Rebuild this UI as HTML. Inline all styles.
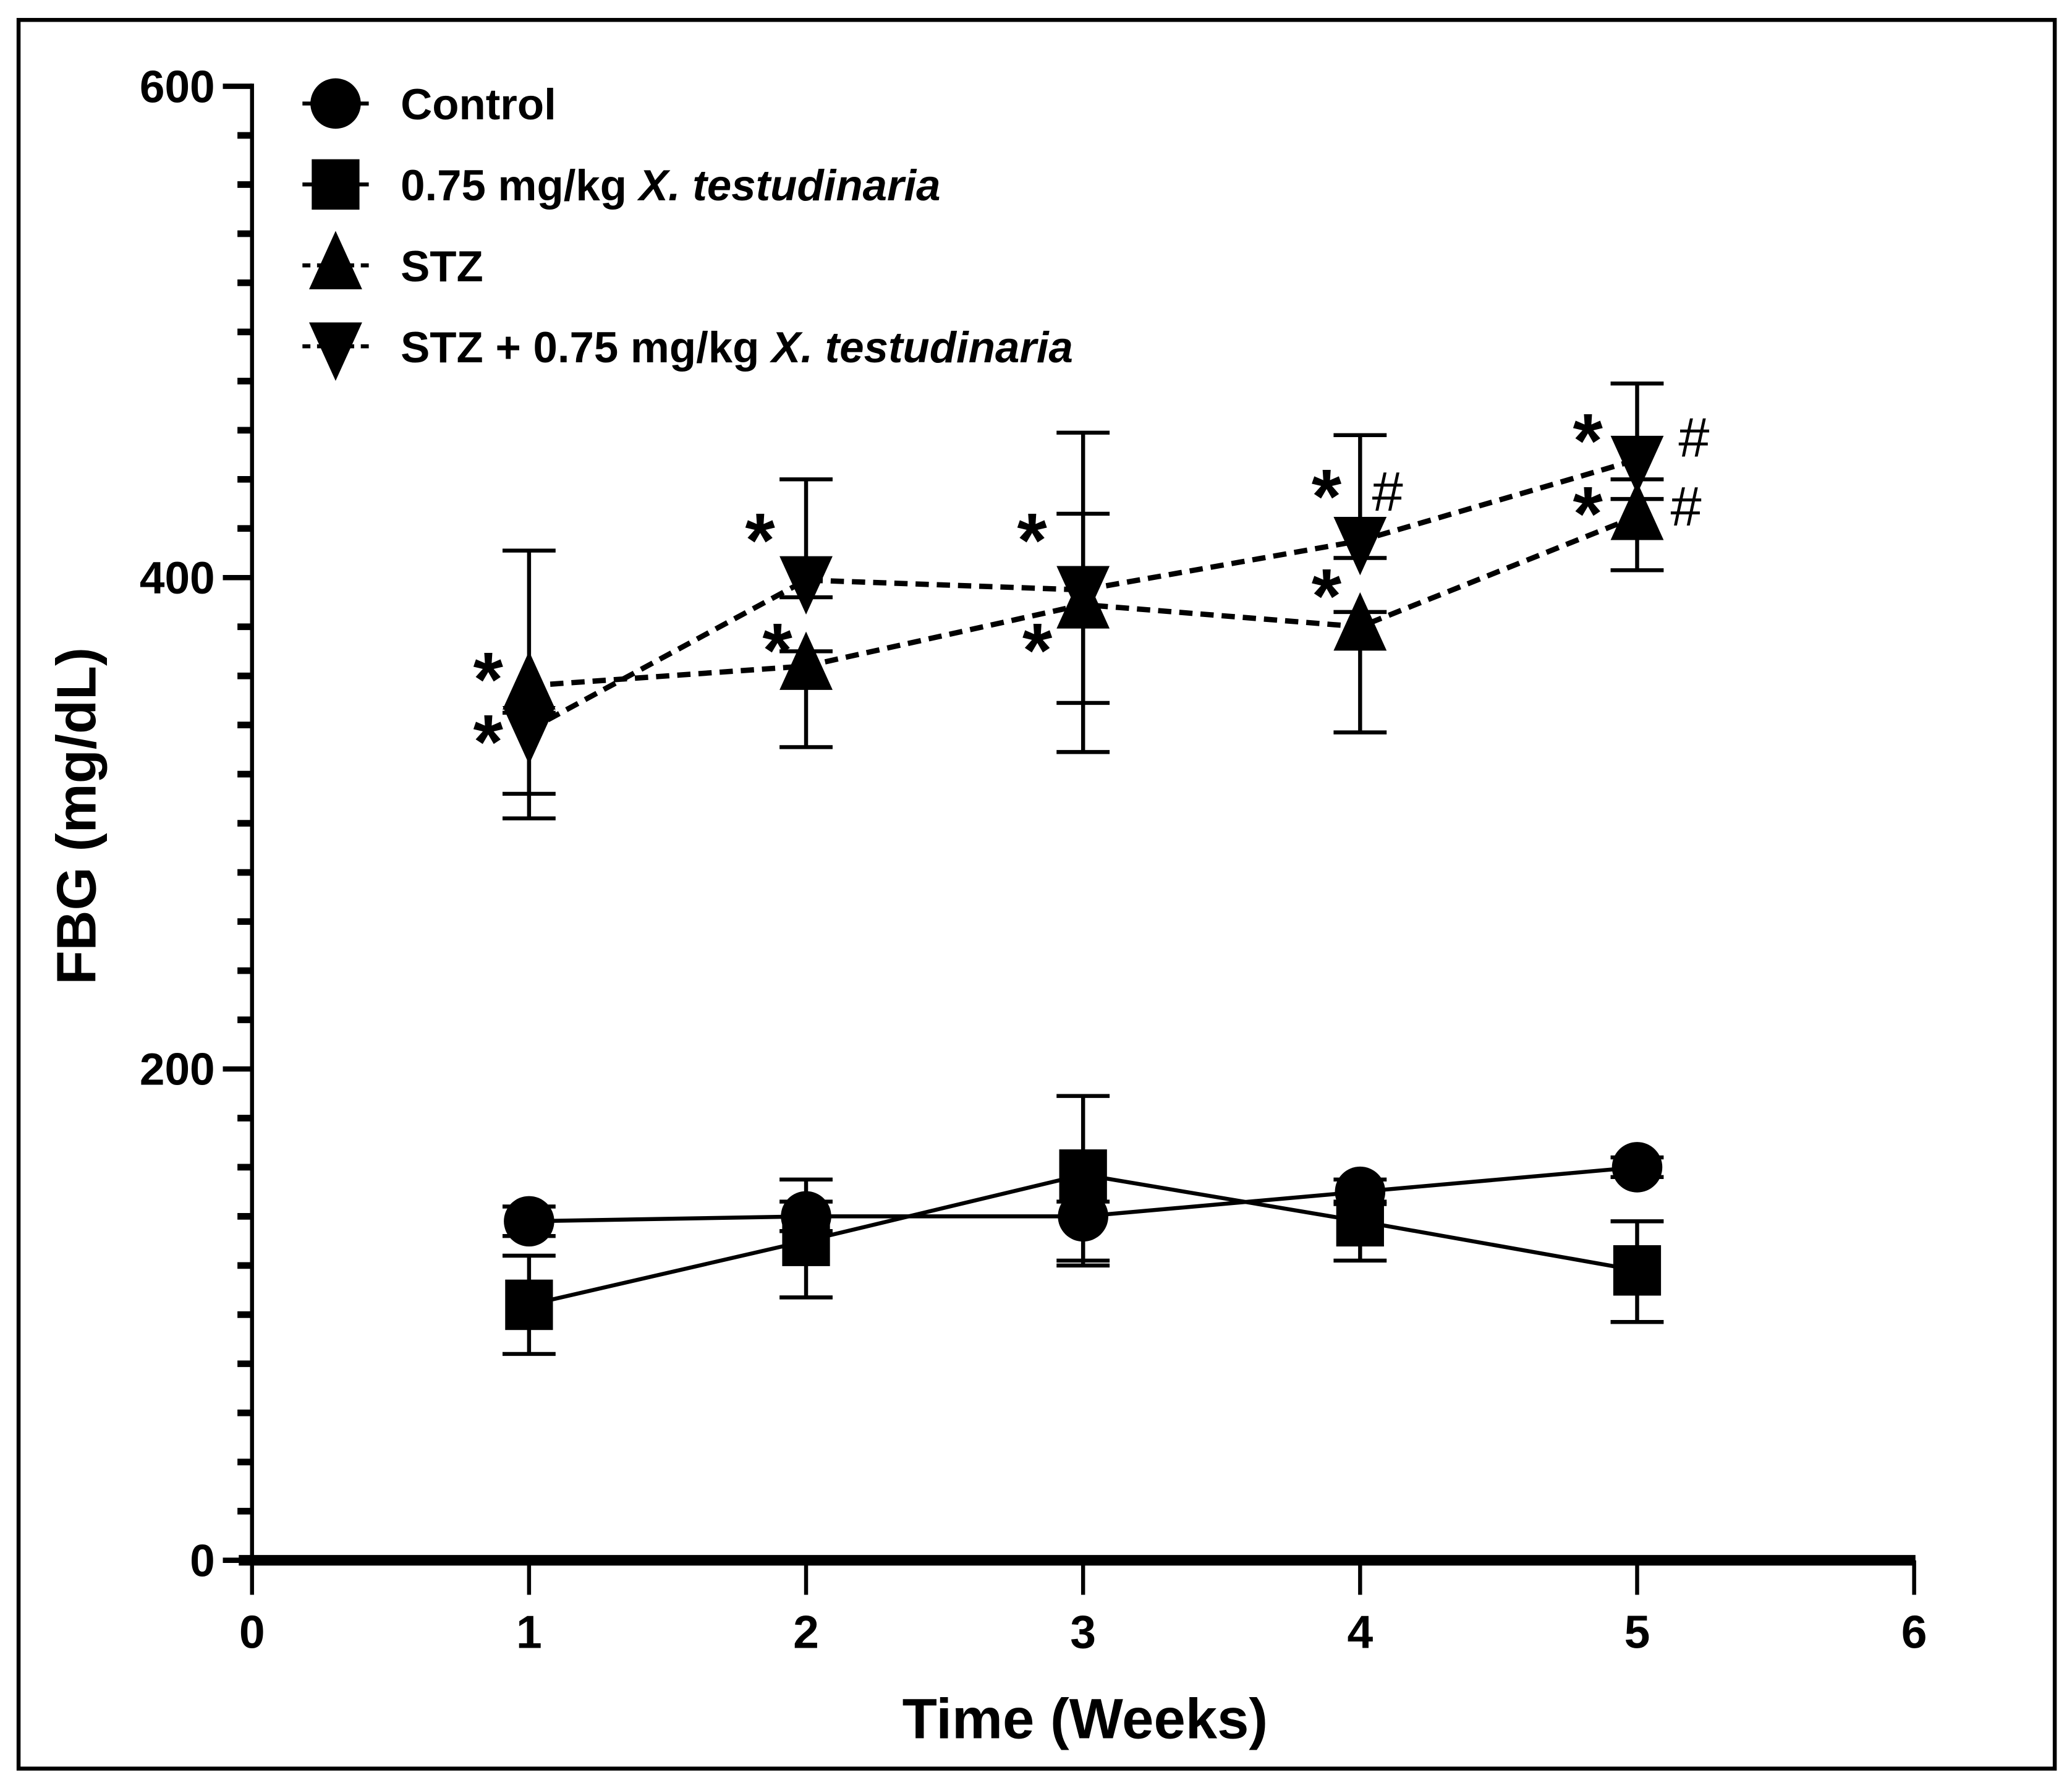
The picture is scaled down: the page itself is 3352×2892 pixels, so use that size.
<!DOCTYPE html>
<html><head><meta charset="utf-8"><style>
html,body{margin:0;padding:0;background:#fff;}
svg{display:block;}
text{font-family:"Liberation Sans",sans-serif;}
</style></head><body>
<svg id="chart" width="3352" height="2892" viewBox="0 0 1562 1347.6" xmlns="http://www.w3.org/2000/svg">
<rect x="14" y="15" width="1535" height="1318" fill="#fff" stroke="#000" stroke-width="3"/>
<g id="axes"></g>
<g id="series"></g>
<g id="legend"></g>
<text transform="translate(72,615) rotate(-90)" text-anchor="middle" font-size="42" font-weight="bold">FBG (mg/dL)</text>
<text x="818" y="1310" text-anchor="middle" font-size="43" font-weight="bold">Time (Weeks)</text>
</svg>
<script>
const weeks = [1, 2, 3, 4, 5];
const controlMean = [138, 140, 140, 150, 160];
const controlUp = [144, 146, 146, 155, 164];
const controlLow = [132, 134, 120, 145, 156];
const xtMean = [104, 130, 157, 138, 118];
const xtUp = [124, 155, 189, 146, 138];
const xtLow = [84, 107, 122, 122, 97];
const stzMean = [356, 364, 389, 380, 425];
const stzUp = [411, 370, 426, 386, 432];
const stzLow = [302, 331, 349, 337, 403];
const stzxMean = [338, 399, 395, 415, 448];
const stzxUp = [345, 440, 459, 458, 479];
const stzxLow = [312, 392, 329, 408, 440];
const xTicks = [0, 1, 2, 3, 4, 5, 6];
const yTicks = [0, 200, 400, 600];

const NS = "http://www.w3.org/2000/svg";
const X = v => 190 + v * (1443 - 190) / 6;
const Y = v => 1176 - v * (1176 - 65) / 600;
function el(tag, attrs, parent) {
  const e = document.createElementNS(NS, tag);
  for (const k in attrs) e.setAttribute(k, attrs[k]);
  parent.appendChild(e);
  return e;
}
const axes = document.getElementById('axes');
const yAxis = el('line', {x1: 190, y1: Y(600) - 2, x2: 190, y2: Y(0), stroke: '#000', 'stroke-width': 3}, axes);


const xAxis = el('line', {x1: 180, y1: Y(0), x2: X(6) + 1, y2: Y(0), stroke: '#000', 'stroke-width': 8}, axes);


for (let v = 0; v <= 600; v += 20) {
  const major = v % 200 === 0;
  const t = el('line', {x1: major ? 168 : 179, y1: Y(v), x2: 190, y2: Y(v), stroke: '#000', 'stroke-width': major ? 4 : 5}, axes);
  
  
}
yTicks.forEach(v => {
  const t = el('text', {x: 162, y: Y(v) + 12, 'text-anchor': 'end', 'font-size': 34, 'font-weight': 'bold'}, axes);
  t.textContent = v;
  
  
});
xTicks.forEach(v => {
  const t = el('line', {x1: X(v), y1: Y(0), x2: X(v), y2: Y(0) + 26, stroke: '#000', 'stroke-width': 3}, axes);
  
  
  const l = el('text', {x: X(v), y: 1242, 'text-anchor': 'middle', 'font-size': 35, 'font-weight': 'bold'}, axes);
  l.textContent = v;
  
  
});

function marker(type, cx, cy, parent) {
  let m;
  if (type === 'circle') m = el('circle', {cx: cx, cy: cy, r: 19}, parent);
  else if (type === 'square') m = el('rect', {x: cx - 18, y: cy - 19, width: 36, height: 38}, parent);
  else if (type === 'up') m = el('polygon', {points: `${cx},${cy-26} ${cx-20},${cy+18} ${cx+20},${cy+18}`}, parent);
  else m = el('polygon', {points: `${cx},${cy+26} ${cx-20},${cy-18} ${cx+20},${cy-18}`}, parent);
  m.setAttribute('fill', '#000');
  return m;
}
const seriesG = document.getElementById('series');
const series = [
  {name: 'control', mean: controlMean, up: controlUp, low: controlLow, type: 'circle', dash: null},
  {name: 'xt', mean: xtMean, up: xtUp, low: xtLow, type: 'square', dash: null},
  {name: 'stz', mean: stzMean, up: stzUp, low: stzLow, type: 'up', dash: '10 6'},
  {name: 'stzx', mean: stzxMean, up: stzxUp, low: stzxLow, type: 'down', dash: '10 6'}
];
series.forEach(s => {
  const g = el('g', {}, seriesG);
  
  
  weeks.forEach((w, i) => {
    const eb = el('path', {d: `M${X(w)},${Y(s.up[i])}V${Y(s.low[i])}M${X(w)-20},${Y(s.up[i])}h40M${X(w)-20},${Y(s.low[i])}h40`, stroke: '#000', 'stroke-width': 3, fill: 'none'}, g);
    
    
  });
  const pts = weeks.map((w, i) => X(w) + ',' + Y(s.mean[i])).join(' ');
  const line = el('polyline', {points: pts, fill: 'none', stroke: '#000', 'stroke-width': s.dash ? 4 : 3}, g);
  if (s.dash) line.setAttribute('stroke-dasharray', s.dash);
  
  
  weeks.forEach((w, i) => {
    const m = marker(s.type, X(w), Y(s.mean[i]), g);
    
    
  });
});
const stars = [[368,532],[368,579],[573,427],[586,510],[778,427],[782,510],[1000,394],[1000,469],[1197,352],[1197,407]];
const hashes = [[1046,385],[1277,344],[1271,396]];
stars.forEach(p => {
  const t = el('text', {x: p[0], y: p[1], 'text-anchor': 'middle', 'font-size': 58, 'font-weight': 'bold'}, seriesG);
  t.textContent = '*';
  
  
});
hashes.forEach(p => {
  const t = el('text', {x: p[0], y: p[1], 'text-anchor': 'middle', 'font-size': 42}, seriesG);
  t.textContent = '#';
  
  
});
const lg = document.getElementById('legend');
const legendItems = [
  {type: 'circle', dash: null, y: 78, html: 'Control'},
  {type: 'square', dash: null, y: 139, html: '0.75 mg/kg <tspan font-style="italic">X. testudinaria</tspan>'},
  {type: 'up', dash: '6 5', y: 200, html: 'STZ'},
  {type: 'down', dash: '6 5', y: 261, html: 'STZ + 0.75 mg/kg <tspan font-style="italic">X. testudinaria</tspan>'}
];
legendItems.forEach(it => {
  const g = el('g', {}, lg);
  
  
  const l = el('line', {x1: 228, y1: it.y, x2: 278, y2: it.y, stroke: '#000', 'stroke-width': 3}, g);
  if (it.dash) l.setAttribute('stroke-dasharray', it.dash);
  marker(it.type, 253, it.y, g);
  const t = el('text', {x: 302, y: it.y + 12, 'font-size': 33, 'font-weight': 'bold'}, g);
  t.innerHTML = it.html;
});
</script>
</body></html>
